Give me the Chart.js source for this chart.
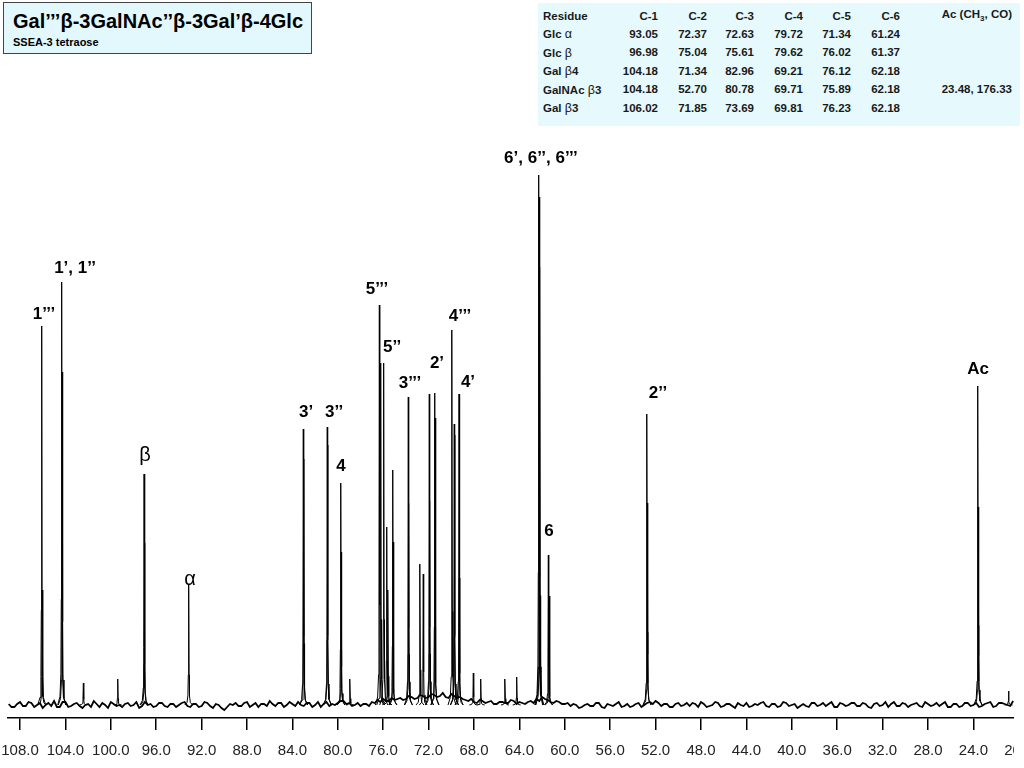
<!DOCTYPE html>
<html><head><meta charset="utf-8">
<script src="https://cdn.jsdelivr.net/npm/chart.js@4.4.0/dist/chart.umd.min.js"></script>
<style>
html,body{margin:0;padding:0;background:#fff;}
#wrap{position:absolute;left:0;top:0;width:1014px;height:768px;overflow:hidden;}
#c{position:absolute;left:0;top:0;width:1024px;height:768px;}
#title{position:absolute;left:3px;top:2px;width:307px;height:50px;border:1.5px solid #444;background:#e3f8fd;font-family:Arial,'Liberation Sans',sans-serif;color:#000;}
#title .t{position:absolute;left:9px;top:8px;font-size:20px;font-weight:bold;white-space:nowrap;line-height:1;}
#title .s{position:absolute;left:9px;top:34px;font-size:11px;font-weight:bold;white-space:nowrap;line-height:1;}
#tbl{position:absolute;left:538px;top:3px;width:482px;height:123px;background:#e6f9fd;}
#tbl table{position:absolute;left:5px;top:5px;width:469px;border-collapse:collapse;table-layout:fixed;font-family:Arial,'Liberation Sans',sans-serif;font-size:11.5px;font-weight:bold;color:#1a1a1a;}
#tbl td{padding:0;height:18.6px;text-align:right;white-space:nowrap;line-height:1;overflow:visible;}
#tbl tr.h td{height:17px;}
#tbl td.r{text-align:left;}
.g{font-weight:normal;font-size:12.5px;}
</style></head>
<body>
<div id="wrap"><canvas id="c" width="1024" height="768"></canvas></div>
<div id="title"><div class="t">Gal’’’β-3GalNAc’’β-3Gal’β-4Glc</div><div class="s">SSEA-3 tetraose</div></div>
<div id="tbl"></div>
<script>
// ---- table data ----
const tableHeaders = ['Residue','C-1','C-2','C-3','C-4','C-5','C-6','Ac (CH<sub style="font-size:8px">3</sub>, CO)'];
const tableResidues = ['Glc α','Glc β','Gal β4','GalNAc β3','Gal β3'];
const tableC1 = ['93.05','96.98','104.18','104.18','106.02'];
const tableC2 = ['72.37','75.04','71.34','52.70','71.85'];
const tableC3 = ['72.63','75.61','82.96','80.78','73.69'];
const tableC4 = ['79.72','79.62','69.21','69.71','69.81'];
const tableC5 = ['71.34','76.02','76.12','75.89','76.23'];
const tableC6 = ['61.24','61.37','62.18','62.18','62.18'];
const tableAc = ['','','','23.48, 176.33',''];

// ---- spectrum data (ppm, relative intensity) ----
const peakPpm    = [106.09,106.05,104.33,104.28,102.42,99.39,97.07,97.03,93.14,83.04,83.00,80.93,80.90,79.74,79.70,78.93,
                    76.34,76.22,75.96,75.69,75.58,75.16,75.13,73.79,73.76,72.76,72.47,71.94,71.91,71.46,71.43,
                    69.94,69.74,69.71,69.32,69.29,68.06,67.41,65.27,64.24,62.30,62.25,62.20,61.45,61.38,52.76,52.73,23.60,23.57,20.9];
const peakHeight = [379,115,423,333,22,26,231,162,121,276,246,278,260,222,153,26,
                    400,342,342,178,115,235,163,308,202,141,131,311,204,312,287,
                    375,281,270,311,127,32,26,26,28,530,508,438,150,109,291,202,319,198,14];
// baseline noise: one value every 0.5 ppm from 109.0 down to 20.5 ...
const noiseStart = 109.0, noiseStep = 0.5;
const noiseValues = [
  1,-2,3,-1,2,0,-3,2,4,-2,
  3,-1,2,-3,1,4,-2,0,3,-1,
  -2,2,0,-3,3,1,-1,2,-2,1,
  0,3,-2,1,-1,2,-3,0,-5,1,
  2,-1,3,0,-2,1,4,-1,2,0,
  1,3,-1,2,0,-2,3,1,2,4,
  2,0,-1,1,3,5,6,4,5,7,
  6,8,7,9,8,10,9,8,11,7,
  6,4,3,5,2,4,1,3,2,4,
  3,1,4,6,8,5,2,3,1,-1,
  0,-2,1,-1,2,-3,0,1,-2,1,
  -1,2,0,3,4,-1,1,-2,2,0,
  -1,1,3,-2,0,2,-1,1,-3,0,
  2,-1,0,3,-2,1,-1,2,0,-3,
  1,-2,2,0,-1,3,-2,1,0,2,
  -1,1,-3,2,0,-2,3,-1,1,0,
  2,-2,1,0,-1,3,-2,1,-1,2,
  0,-2,1,3,-1,2,0,4
];
// ... and the values in between, every 0.5 ppm from 108.75 down to 20.75
const noiseMidStart = 108.75;
const noiseMidValues = [
  -2,1,-1,3,-2,2,0,-1,-2,3,
  -2,1,-1,0,-2,1,2,-3,1,0,
  1,-1,3,-1,0,-2,2,-1,1,-2,
  2,-1,1,-2,3,-1,1,-3,-2,0,
  -1,2,-2,2,1,-1,1,2,-2,3,
  -1,0,2,-2,3,1,-1,0,4,1,
  -1,2,1,-1,2,3,4,7,6,5,
  9,6,10,7,11,8,12,7,9,8,
  5,6,2,4,3,1,3,2,5,1,
  2,3,2,4,6,3,4,1,2,1,
  -3,0,-1,2,-2,1,-1,3,-1,-2,
  1,-2,2,1,2,1,-2,1,-1,2,
  2,-2,1,-1,3,-2,1,-1,2,-1,
  -2,1,2,-1,1,-2,3,-1,1,-1,
  -1,2,-1,2,1,-2,2,-1,2,-1,
  2,-2,1,-1,3,1,-1,2,-2,1,
  -1,3,-1,2,1,-2,1,-2,2,-1,
  2,-1,2,-2,2,1,-1
];
// ---- axis ----
const xMin = 19.54, xMax = 109.06, xStep = 4;
const yMin = -13, yMax = 555;
// ---- peak labels ----
const labelText = ['1’’’','1’, 1’’','β','α','3’','3’’','4','5’’’','5’’','3’’’','2’','4’’’','4’','6’, 6’’, 6’’’','6','2’’','Ac'];
const labelPpm  = [105.89,103.15,96.99,93.02,82.80,80.33,79.72,76.55,75.22,73.64,71.26,69.23,68.53,62.10,61.39,51.79,23.59];
const labelY    = [391,437,250,126,293,293,239,416,358,322,342,389,323,547,174,312,336];

// build table
(function(){
  const widths=[70,45,49,47,49,48,49,112];
  const cols=[tableResidues,tableC1,tableC2,tableC3,tableC4,tableC5,tableC6,tableAc];
  const greek=s=>s.replace(/([αβ])/g,'<span class="g">$1</span>');
  let h='<table><colgroup>'+widths.map(w=>'<col style="width:'+w+'px">').join('')+'</colgroup>';
  h+='<tr class="h">'+tableHeaders.map((t,i)=>'<td'+(i===0?' class="r"':'')+'>'+t+'</td>').join('')+'</tr>';
  for(let r=0;r<tableResidues.length;r++){
    h+='<tr>'+cols.map((c,i)=>'<td'+(i===0?' class="r"':'')+'>'+(i===0?greek(c[r]):c[r])+'</td>').join('')+'</tr>';
  }
  h+='</table>';
  document.getElementById('tbl').innerHTML=h;
})();

// noise dataset
const noiseData = noiseValues.map((v,i)=>({x: noiseStart - i*noiseStep, y: v}))
  .concat(noiseMidValues.map((v,i)=>({x: noiseMidStart - i*noiseStep, y: v})))
  .sort((a,b)=>b.x-a.x);
// peak dataset (narrow line shapes)
const shapeOff = [0.35,0.15,0.07,0.035,0];
const shapeFrac = [0,0.02,0.075,0.25,1];
const peakData = [];
peakPpm.forEach((p,i)=>{
  const h = peakHeight[i];
  for(let k=0;k<shapeOff.length;k++) peakData.push({x:p+shapeOff[k], y:h*shapeFrac[k]});
  for(let k=shapeOff.length-2;k>=0;k--) peakData.push({x:p-shapeOff[k], y:h*shapeFrac[k]});
  peakData.push({x:p-0.36, y:null});
});

const FONT_LBL = "Arial, 'Liberation Sans', sans-serif";
const labelPlugin = {
  id:'peakLabels',
  afterDatasetsDraw(chart){
    const {ctx, scales:{x, y}} = chart;
    ctx.save();
    ctx.fillStyle='#000'; ctx.textAlign='center'; ctx.textBaseline='middle';
    labelText.forEach((t,i)=>{
      const g = /^[αβ]$/.test(t);
      ctx.font = (g ? 'normal 20px ' : 'bold 17px ') + FONT_LBL;
      ctx.fillText(t, x.getPixelForValue(labelPpm[i]), y.getPixelForValue(labelY[i]));
    });
    ctx.restore();
  }
};

new Chart(document.getElementById('c'), {
  type:'line',
  data:{datasets:[
    {data:noiseData, borderColor:'#000', borderWidth:1.8, pointRadius:0, tension:0},
    {data:peakData, borderColor:'#000', borderWidth:1, pointRadius:0, tension:0, spanGaps:false}
  ]},
  options:{
    responsive:false, animation:false, devicePixelRatio:1,
    layout:{padding:{left:8,right:0,top:150,bottom:0}},
    plugins:{legend:{display:false}, tooltip:{enabled:false}},
    scales:{
      x:{type:'linear', reverse:true, min:xMin, max:xMax,
        afterFit(s){ s.paddingLeft=0; s.paddingRight=0; s.height=50; },
        ticks:{stepSize:xStep, autoSkip:false, maxRotation:0, minRotation:0, includeBounds:false, padding:12,
          color:'#222', font:{family:"'Liberation Sans Narrow','Arial Narrow',sans-serif", size:15},
          callback:v=>Number(v).toFixed(1)},
        grid:{drawOnChartArea:false, drawTicks:true, tickLength:12, color:'#000', lineWidth:1.5},
        border:{display:true, color:'#000', width:1.5}
      },
      y:{display:false, min:yMin, max:yMax}
    }
  },
  plugins:[labelPlugin]
});
</script>
</body></html>
